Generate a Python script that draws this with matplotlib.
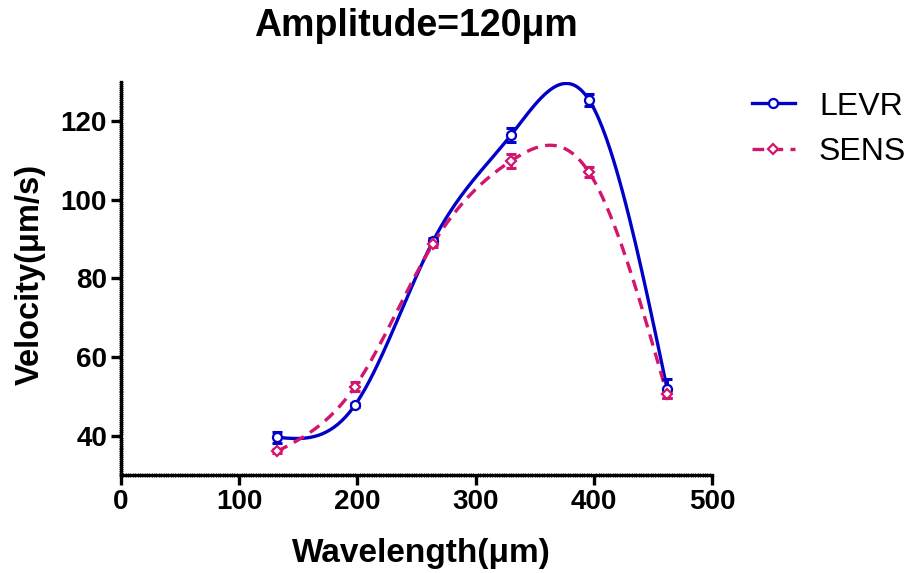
import numpy as np
import matplotlib
matplotlib.use("Agg")
import matplotlib.pyplot as plt
from matplotlib.ticker import MultipleLocator

# Data
wavelength = [132, 198, 264, 330, 396, 462]
levr_mean = [39.6, 47.8, 89.5, 116.5, 125.4, 52.0]
levr_err = [1.4, 0.5, 0.8, 1.7, 1.5, 2.5]
sens_mean = [36.0, 52.5, 88.8, 109.9, 107.0, 50.5]
sens_err = [0.5, 1.2, 0.8, 1.7, 1.3, 1.0]

BLUE = "#0000C8"
PINK = "#D4156E"


def natural_spline(x, y, n=200):
    # natural cubic spline through the points, like the prism curve
    x = np.asarray(x, float)
    y = np.asarray(y, float)
    k = len(x)
    h = np.diff(x)
    A = np.zeros((k, k))
    b = np.zeros(k)
    A[0, 0] = A[-1, -1] = 1
    for i in range(1, k - 1):
        A[i, i - 1] = h[i - 1]
        A[i, i] = 2 * (h[i - 1] + h[i])
        A[i, i + 1] = h[i]
        b[i] = 6 * ((y[i + 1] - y[i]) / h[i] - (y[i] - y[i - 1]) / h[i - 1])
    m = np.linalg.solve(A, b)
    xs = np.linspace(x[0], x[-1], n)
    idx = np.clip(np.searchsorted(x, xs) - 1, 0, k - 2)
    t = xs - x[idx]
    hi = h[idx]
    a = y[idx]
    c1 = (y[idx + 1] - y[idx]) / hi - hi * (2 * m[idx] + m[idx + 1]) / 6
    c2 = m[idx] / 2
    c3 = (m[idx + 1] - m[idx]) / (6 * hi)
    return xs, a + c1 * t + c2 * t ** 2 + c3 * t ** 3


plt.rcParams["font.family"] = ["Liberation Sans", "DejaVu Sans"]

fig = plt.figure(figsize=(9.07, 5.73), dpi=100)
ax = fig.add_axes([0.1334, 0.171, 0.6516, 0.686])

# LEVR
xs, ys = natural_spline(wavelength, levr_mean)
ax.plot(xs, ys, color=BLUE, lw=2.4, zorder=3)
ax.errorbar(wavelength, levr_mean, yerr=levr_err, fmt="none", ecolor=BLUE,
            elinewidth=2.2, capsize=3.5, capthick=2.2, zorder=4)
ax.plot(wavelength, levr_mean, "o", ms=6.5, mfc="white", mec=BLUE, mew=1.6, zorder=5)

# SENS
xs, ys = natural_spline(wavelength, sens_mean)
ax.plot(xs, ys, color=PINK, lw=2.4, ls=(0, (3.5, 2.2)), zorder=3)
ax.errorbar(wavelength, sens_mean, yerr=sens_err, fmt="none", ecolor=PINK,
            elinewidth=2.2, capsize=3.5, capthick=2.2, zorder=4)
ax.plot(wavelength, sens_mean, "D", ms=5.5, mfc="white", mec=PINK, mew=1.6, zorder=5)

# legend handles
h1, = ax.plot([], [], color=BLUE, lw=2.4, marker="o", ms=6.5, mfc="white", mec=BLUE, mew=1.6)
h2, = ax.plot([], [], color=PINK, lw=2.4, ls=(0, (3.5, 2.2)), marker="D", ms=5.5,
              mfc="white", mec=PINK, mew=1.6)
fig.legend([h1, h2], ["LEVR", "SENS"], loc="upper left", bbox_to_anchor=(0.829, 0.84),
           frameon=False, fontsize=23, handlelength=1.35, handletextpad=0.75,
           labelspacing=0.48, borderpad=0, borderaxespad=0)

ax.set_xlim(0, 500)
ax.set_ylim(30, 130)
ax.set_xticks([0, 100, 200, 300, 400, 500])
ax.set_yticks([40, 60, 80, 100, 120])
ax.xaxis.set_minor_locator(MultipleLocator(2))
ax.yaxis.set_minor_locator(MultipleLocator(0.5))

for side in ["top", "right"]:
    ax.spines[side].set_visible(False)
for side in ["left", "bottom"]:
    ax.spines[side].set_linewidth(2.4)

ax.tick_params(which="major", length=7, width=2.4, direction="out", pad=3,
               labelsize=20)
ax.tick_params(which="minor", length=2.5, width=0.6, direction="inout")
for lab in ax.get_xticklabels() + ax.get_yticklabels():
    lab.set_fontweight("bold")

ax.set_xlabel("Wavelength(μm)", fontsize=24, fontweight="bold", va="center")
ax.set_ylabel("Velocity(μm/s)", fontsize=23.5, fontweight="bold", va="center")
ax.xaxis.set_label_coords(0.508, -0.2)
ax.yaxis.set_label_coords(-0.154, 0.51)
fig.text(0.4587, 0.955, "Amplitude=120μm", fontsize=27, fontweight="bold",
         ha="center", va="center")

fig.savefig("out.png", dpi=100)
